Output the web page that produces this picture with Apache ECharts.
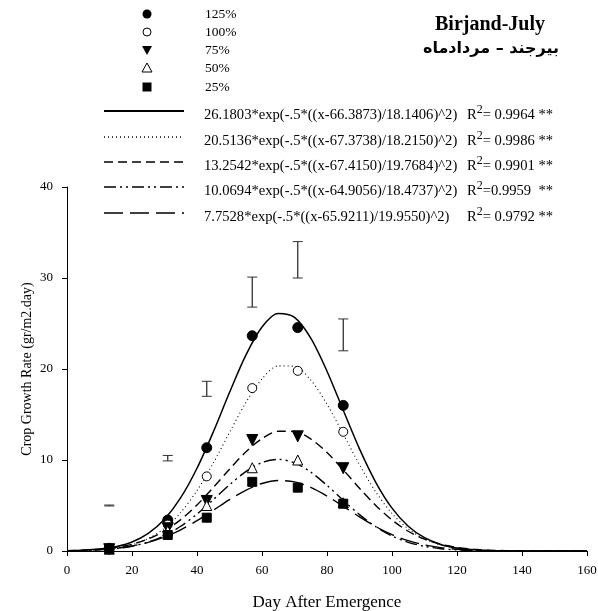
<!DOCTYPE html>
<html><head><meta charset="utf-8">
<script src="https://cdn.jsdelivr.net/npm/echarts@6/dist/echarts.min.js"></script>
<style>html,body{margin:0;padding:0;background:#fff}#c{width:598px;height:611px}</style>
</head><body><div id="c"></div>
<script>
// Observed data (day after emergence)
const days = [13, 31, 43, 57, 71, 85];
const cgr125 = [0.3, 3.4, 11.35, 23.65, 24.55, 16.0];
const cgr100 = [0.2, 2.9, 8.2, 17.9, 19.8, 13.1];
const cgr75  = [0.2, 2.5, 5.5, 12.2, 12.6, 9.1];
const cgr50  = [0.2, 2.2, 5.0, 9.15, 10.0, 5.3];
const cgr25  = [0.2, 1.76, 3.66, 7.6, 6.96, 5.2];
// LSD bars
const lsdLow  = [4.95, 9.9, 17.0, 26.8, 30.0, 22.0];
const lsdHigh = [5.05, 10.5, 18.65, 30.1, 34.0, 25.5];
// Fitted curves read at 5-day steps
const fitX = [0,5,10,15,20,25,30,35,40,45,50,55,60,65,70,75,80,85,90,95,100,105,110,115,120,125,130,135,140,145,150,155,160];
const fit125 = [0.032,0.085,0.209,0.473,0.995,1.94,3.50,5.86,9.09,13.07,17.41,21.50,24.61,26.10,25.67,23.39,19.76,15.46,11.22,7.55,4.71,2.72,1.46,0.72,0.333,0.142,0.056,0.020,0.007,0.002,0,0,0];
const fit100 = [0.022,0.058,0.144,0.329,0.698,1.372,2.50,4.23,6.64,9.65,13.02,16.29,18.90,20.34,20.30,18.79,16.13,12.84,9.48,6.49,4.12,2.43,1.325,0.671,0.316,0.137,0.056,0.021,0.007,0.002,0,0,0];
const fit75  = [0.040,0.091,0.195,0.394,0.746,1.326,2.21,3.45,5.06,6.97,8.99,10.88,12.35,13.16,13.14,12.31,10.82,8.92,6.90,5.01,3.41,2.17,1.30,0.731,0.386,0.190,0.088,0.038,0.016,0.006,0.002,0.001,0];
const fit50  = [0.021,0.052,0.122,0.262,0.525,0.977,1.690,2.72,4.06,5.64,7.27,8.72,9.72,10.07,9.69,8.67,7.21,5.57,4.00,2.67,1.658,0.956,0.512,0.255,0.118,0.051,0.020,0.008,0.003,0.001,0,0,0];
const fit25  = [0.033,0.073,0.153,0.299,0.549,0.947,1.534,2.334,3.33,4.47,5.64,6.67,7.42,7.74,7.59,6.99,6.04,4.91,3.74,2.68,1.80,1.139,0.676,0.377,0.197,0.097,0.045,0.019,0.008,0.003,0.001,0,0];
const treatments = ['125%', '100%', '75%', '50%', '25%'];
const equations = [
  '26.1803*exp(-.5*((x-66.3873)/18.1406)^2)',
  '20.5136*exp(-.5*((x-67.3738)/18.2150)^2)',
  '13.2542*exp(-.5*((x-67.4150)/19.7684)^2)',
  '10.0694*exp(-.5*((x-64.9056)/18.4737)^2)',
  '7.7528*exp(-.5*((x-65.9211)/19.9550)^2)'
];
const r2Text = ['= 0.9964 **', '= 0.9986 **', '= 0.9901 **', '=0.9959  **', '= 0.9792 **'];

const serif = '"Liberation Serif", "Times New Roman", serif';
const pair = (xs, ys) => xs.map((x, i) => [x, ys[i]]);

const dashes = ['solid', [1, 3], [9, 5], [12, 4, 2, 4, 2, 4], [19, 7]];
const widths = [1.5, 1.1, 1.4, 1.4, 1.4];
const fits = [fit125, fit100, fit75, fit50, fit25];
const obs = [cgr125, cgr100, cgr75, cgr50, cgr25];
const symbols = [
  {symbol: 'circle', size: 10, fill: '#000', rot: 0},
  {symbol: 'circle', size: 9, fill: '#fff', rot: 0},
  {symbol: 'triangle', size: 11, fill: '#000', rot: 180},
  {symbol: 'triangle', size: 10, fill: '#fff', rot: 0},
  {symbol: 'rect', size: 9, fill: '#000', rot: 0}
];

const series = [];
fits.forEach((f, i) => {
  series.push({
    type: 'line', data: pair(fitX, f), smooth: 0.3, showSymbol: false, silent: true,
    lineStyle: {color: '#000', width: widths[i], type: dashes[i]}, z: 2
  });
});
obs.forEach((o, i) => {
  series.push({
    type: 'scatter', data: pair(days, o), symbol: symbols[i].symbol, symbolSize: symbols[i].size,
    symbolRotate: symbols[i].rot,
    itemStyle: {color: symbols[i].fill, borderColor: '#000', borderWidth: 1, opacity: 1}, z: 5
  });
});
series.push({
  type: 'custom',
  data: days.map((d, i) => [d, lsdLow[i], lsdHigh[i]]),
  renderItem: function (params, api) {
    const lo = api.coord([api.value(0), api.value(1)]);
    const hi = api.coord([api.value(0), api.value(2)]);
    const w = 5;
    const st = {stroke: '#333', lineWidth: 1};
    return {type: 'group', children: [
      {type: 'line', shape: {x1: lo[0], y1: lo[1], x2: hi[0], y2: hi[1]}, style: {stroke: '#222', lineWidth: 1.2}},
      {type: 'line', shape: {x1: lo[0] - w, y1: lo[1], x2: lo[0] + w, y2: lo[1]}, style: st},
      {type: 'line', shape: {x1: hi[0] - w, y1: hi[1], x2: hi[0] + w, y2: hi[1]}, style: st}
    ]};
  },
  z: 4
});

// legend graphics
const g = [];
const mx = 147, markerY = [14, 32, 50, 68, 87];
g.push({type: 'circle', shape: {cx: mx, cy: markerY[0], r: 4.5}, style: {fill: '#000'}});
g.push({type: 'circle', shape: {cx: mx, cy: markerY[1], r: 4}, style: {fill: '#fff', stroke: '#000', lineWidth: 1}});
g.push({type: 'polygon', shape: {points: [[mx - 5, markerY[2] - 4], [mx + 5, markerY[2] - 4], [mx, markerY[2] + 5]]}, style: {fill: '#000'}});
g.push({type: 'polygon', shape: {points: [[mx - 5, markerY[3] + 4], [mx + 5, markerY[3] + 4], [mx, markerY[3] - 5]]}, style: {fill: '#fff', stroke: '#000', lineWidth: 1}});
g.push({type: 'rect', shape: {x: mx - 4.5, y: markerY[4] - 4.5, width: 9, height: 9}, style: {fill: '#000'}});
treatments.forEach((t, i) => {
  g.push({type: 'text', x: 205, y: markerY[i], style: {text: t, font: '13.5px ' + serif, fill: '#000', verticalAlign: 'middle'}});
});
const lineY = [111, 137, 162, 187, 213];
equations.forEach((e, i) => {
  g.push({type: 'line', shape: {x1: 104, y1: lineY[i], x2: 184, y2: lineY[i]},
    style: {stroke: '#000', lineWidth: widths[i] + 0.3, lineDash: dashes[i] === 'solid' ? null : dashes[i]}});
  g.push({type: 'text', x: 204, y: lineY[i] + 4, style: {text: e, font: '14.6px ' + serif, fill: '#000', verticalAlign: 'middle'}});
  g.push({type: 'text', x: 467, y: lineY[i] + 4, style: {
    text: '{r|R}{s|2}{r|' + r2Text[i] + '}', verticalAlign: 'middle',
    rich: {
      r: {fontFamily: serif, fontSize: 14.6, fill: '#000', color: '#000'},
      s: {fontFamily: serif, fontSize: 12, fill: '#000', color: '#000', padding: [0, 0, 10, 0]}
    }
  }});
});
g.push({type: 'text', x: 490, y: 25, style: {text: 'Birjand-July', font: 'bold 20px ' + serif, fill: '#000', align: 'center', verticalAlign: 'middle'}});
g.push({type: 'text', x: 491, y: 49, style: {text: 'بیرجند – مردادماه', font: 'bold 16px "DejaVu Sans"', fill: '#000', align: 'center', verticalAlign: 'middle'}});

const chart = echarts.init(document.getElementById('c'), null, {renderer: 'canvas'});
chart.setOption({
  animation: false,
  backgroundColor: '#fff',
  grid: {left: 67, right: 11, top: 187, bottom: 60, containLabel: false, outerBoundsMode: 'none'},
  xAxis: {
    type: 'value', min: 0, max: 160, interval: 20,
    name: 'Day After Emergence', nameLocation: 'middle', nameGap: 43, nameMoveOverlap: false,
    nameTextStyle: {fontFamily: serif, fontSize: 17, color: '#000'},
    axisLine: {onZero: false, lineStyle: {color: '#000', width: 1}},
    axisTick: {inside: false, length: 5, lineStyle: {color: '#000'}},
    axisLabel: {fontFamily: serif, fontSize: 13, color: '#000', margin: 13},
    splitLine: {show: false}
  },
  yAxis: {
    type: 'value', min: 0, max: 40, interval: 10,
    name: 'Crop Growth Rate (gr/m2.day)', nameLocation: 'middle', nameGap: 33, nameMoveOverlap: false,
    nameTextStyle: {fontFamily: serif, fontSize: 14, color: '#000'},
    axisLine: {show: true, onZero: false, lineStyle: {color: '#000', width: 1}},
    axisTick: {show: true, inside: false, length: 5, lineStyle: {color: '#000'}},
    axisLabel: {fontFamily: serif, fontSize: 13, color: '#000', margin: 14},
    splitLine: {show: false}
  },
  series: series,
  graphic: g
});
</script></body></html>
